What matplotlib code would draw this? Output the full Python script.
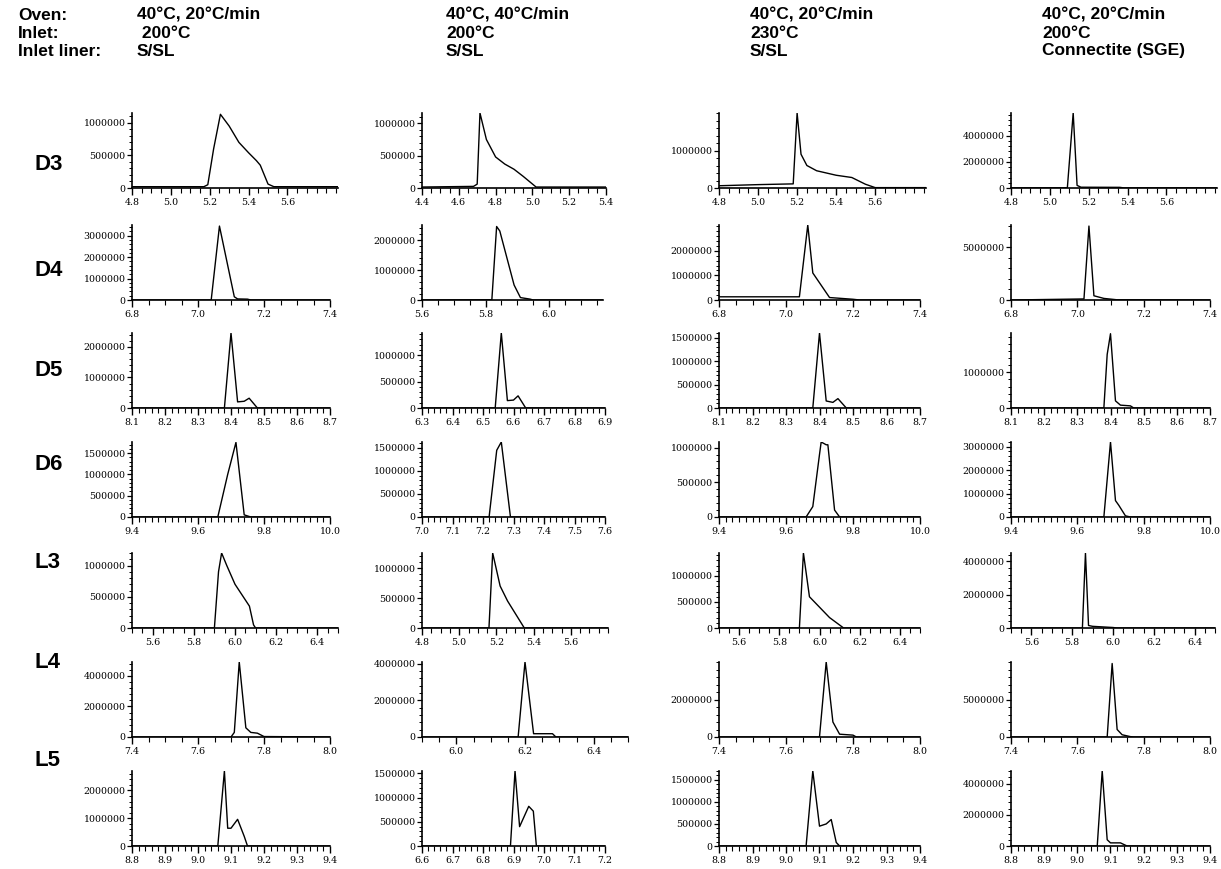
import matplotlib
matplotlib.use("Agg")
import matplotlib.pyplot as plt
from matplotlib.ticker import MultipleLocator

W, H = 1221, 869

rows = ["D3", "D4", "D5", "D6", "L3", "L4", "L5"]
oven = ["40°C, 20°C/min", "40°C, 40°C/min", "40°C, 20°C/min", "40°C, 20°C/min"]
inlet = [" 200°C", "200°C", "230°C", "200°C"]
liner = ["S/SL", "S/SL", "S/SL", "Connectite (SGE)"]

# retention time range of each panel (rows x columns)
x_ranges = [
    [(4.8, 5.86), (4.4, 5.4), (4.8, 5.86), (4.8, 5.86)],
    [(6.8, 7.4), (5.6, 6.17), (6.8, 7.4), (6.8, 7.4)],
    [(8.1, 8.7), (6.3, 6.9), (8.1, 8.7), (8.1, 8.7)],
    [(9.4, 10.0), (7.0, 7.6), (9.4, 10.0), (9.4, 10.0)],
    [(5.5, 6.5), (4.8, 5.8), (5.5, 6.5), (5.5, 6.5)],
    [(7.4, 8.0), (5.9, 6.5), (7.4, 8.0), (7.4, 8.0)],
    [(8.8, 9.4), (6.6, 7.2), (8.8, 9.4), (8.8, 9.4)],
]
x_ticks = [
    [[4.8, 5.0, 5.2, 5.4, 5.6], [4.4, 4.6, 4.8, 5.0, 5.2, 5.4], [4.8, 5.0, 5.2, 5.4, 5.6], [4.8, 5.0, 5.2, 5.4, 5.6]],
    [[6.8, 7.0, 7.2, 7.4], [5.6, 5.8, 6.0], [6.8, 7.0, 7.2, 7.4], [6.8, 7.0, 7.2, 7.4]],
    [[8.1, 8.2, 8.3, 8.4, 8.5, 8.6, 8.7], [6.3, 6.4, 6.5, 6.6, 6.7, 6.8, 6.9], [8.1, 8.2, 8.3, 8.4, 8.5, 8.6, 8.7], [8.1, 8.2, 8.3, 8.4, 8.5, 8.6, 8.7]],
    [[9.4, 9.6, 9.8, 10.0], [7.0, 7.1, 7.2, 7.3, 7.4, 7.5, 7.6], [9.4, 9.6, 9.8, 10.0], [9.4, 9.6, 9.8, 10.0]],
    [[5.6, 5.8, 6.0, 6.2, 6.4], [4.8, 5.0, 5.2, 5.4, 5.6], [5.6, 5.8, 6.0, 6.2, 6.4], [5.6, 5.8, 6.0, 6.2, 6.4]],
    [[7.4, 7.6, 7.8, 8.0], [6.0, 6.2, 6.4], [7.4, 7.6, 7.8, 8.0], [7.4, 7.6, 7.8, 8.0]],
    [[8.8, 8.9, 9.0, 9.1, 9.2, 9.3, 9.4], [6.6, 6.7, 6.8, 6.9, 7.0, 7.1, 7.2], [8.8, 8.9, 9.0, 9.1, 9.2, 9.3, 9.4], [8.8, 8.9, 9.0, 9.1, 9.2, 9.3, 9.4]],
]
y_tops = [
    [1.15e6, 1.16e6, 2.0e6, 5.75e6],
    [3.5e6, 2.5e6, 3.05e6, 7.1e6],
    [2.45e6, 1.42e6, 1.6e6, 2.1e6],
    [1.76e6, 1.63e6, 1.08e6, 3.2e6],
    [1.2e6, 1.25e6, 1.44e6, 4.5e6],
    [4.9e6, 4.1e6, 4.0e6, 1.0e7],
    [2.7e6, 1.55e6, 1.7e6, 4.8e6],
]
y_ticks = [
    [[0, 500000, 1000000], [0, 500000, 1000000], [0, 1000000], [0, 2000000, 4000000]],
    [[0, 1000000, 2000000, 3000000], [0, 1000000, 2000000], [0, 1000000, 2000000], [0, 5000000]],
    [[0, 1000000, 2000000], [0, 500000, 1000000], [0, 500000, 1000000, 1500000], [0, 1000000]],
    [[0, 500000, 1000000, 1500000], [0, 500000, 1000000, 1500000], [0, 500000, 1000000], [0, 1000000, 2000000, 3000000]],
    [[0, 500000, 1000000], [0, 500000, 1000000], [0, 500000, 1000000], [0, 2000000, 4000000]],
    [[0, 2000000, 4000000], [0, 2000000, 4000000], [0, 2000000], [0, 5000000]],
    [[0, 1000000, 2000000], [0, 500000, 1000000, 1500000], [0, 500000, 1000000, 1500000], [0, 2000000, 4000000]],
]

# chromatogram traces: time (min) and abundance, one list per column
d3_t = [[4.8, 5.17, 5.19, 5.22, 5.255, 5.3, 5.35, 5.4, 5.44, 5.46, 5.5, 5.53, 5.86],
        [4.4, 4.68, 4.7, 4.715, 4.75, 4.8, 4.85, 4.9, 4.95, 5.02, 5.4],
        [4.8, 5.0, 5.18, 5.2, 5.22, 5.25, 5.3, 5.4, 5.48, 5.55, 5.6, 5.86],
        [4.8, 5.09, 5.12, 5.14, 5.16, 5.36, 5.38, 5.86]]
d3_y = [[2e4, 2e4, 5e4, 6e5, 1.13e6, 9.5e5, 7e5, 5.4e5, 4.2e5, 3.5e5, 6e4, 2e4, 2e4],
        [1.5e4, 2.5e4, 6e4, 1.16e6, 7.5e5, 4.8e5, 3.7e5, 2.9e5, 1.8e5, 1.5e4, 1.5e4],
        [6e4, 9e4, 1.1e5, 2.0e6, 9e5, 6e5, 4.6e5, 3.4e5, 2.8e5, 1e5, 1e4, 1e4],
        [1e4, 2e4, 5.75e6, 2e5, 6e4, 5e4, 1e4, 1e4]]
d4_t = [[6.8, 7.04, 7.065, 7.11, 7.12, 7.15, 7.16, 7.4],
        [5.6, 5.82, 5.835, 5.845, 5.87, 5.89, 5.91, 5.94, 5.95, 6.17],
        [6.8, 7.04, 7.065, 7.08, 7.1, 7.13, 7.2, 7.22, 7.4],
        [6.8, 7.02, 7.035, 7.05, 7.08, 7.12, 7.4]]
d4_y = [[0, 0, 3.45e6, 1.5e5, 5e4, 4e4, 0, 0],
        [0, 1e4, 2.45e6, 2.3e6, 1.3e6, 5e5, 8e4, 3e4, 0, 0],
        [1.3e5, 1.3e5, 3.05e6, 1.1e6, 7e5, 1e5, 3e4, 0, 0],
        [0, 1e5, 7.0e6, 4e5, 1.5e5, 2e4, 0]]
d5_t = [[8.1, 8.38, 8.40, 8.42, 8.44, 8.455, 8.48, 8.7],
        [6.3, 6.54, 6.56, 6.58, 6.6, 6.615, 6.64, 6.9],
        [8.1, 8.38, 8.40, 8.42, 8.44, 8.455, 8.48, 8.7],
        [8.1, 8.38, 8.39, 8.40, 8.415, 8.43, 8.46, 8.47, 8.7]]
d5_y = [[0, 0, 2.45e6, 2e5, 2.2e5, 3.2e5, 0, 0],
        [0, 0, 1.42e6, 1.4e5, 1.5e5, 2.3e5, 0, 0],
        [0, 0, 1.6e6, 1.5e5, 1.2e5, 2e5, 0, 0],
        [0, 0, 1.5e6, 2.08e6, 2e5, 8e4, 6e4, 0, 0]]
d6_t = [[9.4, 9.66, 9.69, 9.715, 9.74, 9.76, 10.0],
        [7.0, 7.22, 7.245, 7.26, 7.29, 7.6],
        [9.4, 9.66, 9.68, 9.70, 9.705, 9.72, 9.725, 9.745, 9.76, 10.0],
        [9.4, 9.68, 9.70, 9.715, 9.725, 9.745, 9.76, 10.0]]
d6_y = [[0, 0, 1.0e6, 1.75e6, 5e4, 0, 0],
        [0, 0, 1.45e6, 1.63e6, 0, 0],
        [0, 0, 1.5e5, 9e5, 1.08e6, 1.04e6, 1.04e6, 1e5, 0, 0],
        [0, 0, 3.2e6, 7e5, 5e5, 5e4, 0, 0]]
l3_t = [[5.5, 5.9, 5.92, 5.935, 5.96, 6.0, 6.04, 6.07, 6.09, 6.1, 6.5],
        [4.8, 5.16, 5.18, 5.22, 5.26, 5.3, 5.35, 5.8],
        [5.5, 5.9, 5.92, 5.95, 6.0, 6.05, 6.12, 6.5],
        [5.5, 5.85, 5.865, 5.88, 5.9, 6.0, 6.02, 6.5]]
l3_y = [[0, 0, 9e5, 1.2e6, 1.0e6, 7e5, 5e5, 3.5e5, 5e4, 0, 0],
        [0, 0, 1.25e6, 7e5, 4.5e5, 2.5e5, 0, 0],
        [0, 0, 1.44e6, 6e5, 4e5, 2e5, 0, 0],
        [0, 0, 4.5e6, 1.5e5, 1e5, 3e4, 0, 0]]
l4_t = [[7.4, 7.7, 7.71, 7.725, 7.745, 7.76, 7.78, 7.8, 8.0],
        [5.9, 6.18, 6.2, 6.225, 6.28, 6.29, 6.5],
        [7.4, 7.7, 7.72, 7.74, 7.76, 7.8, 7.81, 8.0],
        [7.4, 7.69, 7.705, 7.72, 7.735, 7.76, 7.77, 8.0]]
l4_y = [[0, 0, 3e5, 4.9e6, 6e5, 3e5, 2.5e5, 3e4, 0],
        [0, 0, 4.1e6, 1.8e5, 1.8e5, 0, 0],
        [0, 0, 4.0e6, 8e5, 1.5e5, 1e5, 0, 0],
        [0, 0, 9.8e6, 1e6, 3e5, 5e4, 0, 0]]
l5_t = [[8.8, 9.06, 9.08, 9.09, 9.1, 9.12, 9.14, 9.15, 9.4],
        [6.6, 6.89, 6.905, 6.92, 6.95, 6.965, 6.975, 7.2],
        [8.8, 9.06, 9.08, 9.1, 9.12, 9.135, 9.15, 9.16, 9.4],
        [8.8, 9.06, 9.075, 9.09, 9.1, 9.13, 9.15, 9.4]]
l5_y = [[0, 0, 2.7e6, 6.4e5, 6.4e5, 9.6e5, 3.5e5, 0, 0],
        [0, 0, 1.55e6, 4e5, 8.2e5, 7.2e5, 0, 0],
        [0, 0, 1.7e6, 4.5e5, 5e5, 6e5, 8e4, 0, 0],
        [0, 0, 4.8e6, 4e5, 2e5, 2e5, 0, 0]]
traces = [(d3_t, d3_y), (d4_t, d4_y), (d5_t, d5_y), (d6_t, d6_y),
          (l3_t, l3_y), (l4_t, l4_y), (l5_t, l5_y)]

# layout in pixels
col_left = [132, 422, 719, 1011]
panel_right = [
    [338, 606, 926, 1217],
    [330, 603, 920, 1210],
    [330, 605, 920, 1210],
    [330, 605, 920, 1210],
    [338, 608, 920, 1215],
    [330, 628, 920, 1210],
    [330, 605, 920, 1210],
]
zero_y = [188, 300, 408, 517, 628, 737, 846]
row_label_y = [165, 270, 370, 465, 563, 662, 760]
x_minor = [0.05, 0.05, 0.02, 0.02, 0.05, 0.05, 0.02]
panel_h = 75

fig = plt.figure(figsize=(W / 100, H / 100), dpi=100)
tick_font = {"family": "DejaVu Serif", "size": 6.8}

# header block
fig.text(18 / W, 1 - 15 / H, "Oven:", fontsize=12.5, fontweight="bold",
         family="Liberation Sans", va="center")
fig.text(18 / W, 1 - 33 / H, "Inlet:", fontsize=12.5, fontweight="bold",
         family="Liberation Sans", va="center")
fig.text(18 / W, 1 - 51 / H, "Inlet liner:", fontsize=12.5, fontweight="bold",
         family="Liberation Sans", va="center")
head_x = [137, 446, 750, 1042]
for j in range(4):
    for k, txt in enumerate([oven[j], inlet[j], liner[j]]):
        fig.text(head_x[j] / W, 1 - (15 + 18 * k) / H, txt, fontsize=12.5,
                 fontweight="bold", family="Liberation Sans", va="center")

for i, name in enumerate(rows):
    fig.text(35 / W, 1 - row_label_y[i] / H, name, fontsize=16,
             fontweight="bold", family="Liberation Sans", va="center")
    t_all, y_all = traces[i]
    for j in range(4):
        left = col_left[j]
        right = panel_right[i][j]
        ax = fig.add_axes([left / W, 1 - zero_y[i] / H, (right - left) / W, panel_h / H])
        ax.plot(t_all[j], y_all[j], color="black", lw=1.0)
        ax.set_xlim(*x_ranges[i][j])
        ax.set_ylim(0, y_tops[i][j])
        ax.spines["top"].set_visible(False)
        ax.spines["right"].set_visible(False)
        ax.spines["left"].set_linewidth(1.2)
        ax.spines["bottom"].set_linewidth(1.2)
        ax.set_xticks(x_ticks[i][j])
        ax.set_xticklabels(["%.1f" % v for v in x_ticks[i][j]], fontdict=tick_font)
        ax.set_yticks(y_ticks[i][j])
        ax.set_yticklabels([str(v) for v in y_ticks[i][j]], fontdict=tick_font)
        ax.xaxis.set_minor_locator(MultipleLocator(x_minor[i]))
        ystep = y_ticks[i][j][1] / 5
        ax.yaxis.set_minor_locator(MultipleLocator(ystep))
        ax.tick_params(axis="x", which="major", direction="out", length=5, width=1, pad=2)
        ax.tick_params(axis="x", which="minor", direction="out", length=3.5, width=0.8)
        ax.tick_params(axis="y", which="major", direction="out", length=3.5, width=0.9, pad=1)
        ax.tick_params(axis="y", which="minor", direction="out", length=2.5, width=0.7)
        ax.patch.set_alpha(0)

fig.savefig("out.png", dpi=100)
